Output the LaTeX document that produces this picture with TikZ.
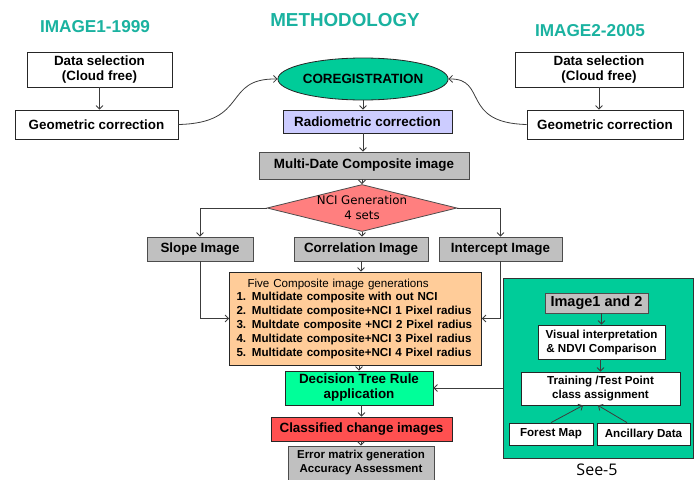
\documentclass[tikz,border=0pt]{standalone}
\usepackage{fontspec}
\setmainfont{Liberation Sans}
\newfontfamily\ncifont{DejaVu Sans}
\newfontfamily\seefont{Open Sans}
\usetikzlibrary{shapes.geometric,arrows.meta}

\definecolor{titleteal}{RGB}{26,178,160}
\definecolor{coregreen}{RGB}{0,204,153}
\definecolor{radioblue}{RGB}{204,204,255}
\definecolor{boxgray}{RGB}{192,192,192}
\definecolor{ncired}{RGB}{255,127,127}
\definecolor{fiveorange}{RGB}{255,204,153}
\definecolor{treegreen}{RGB}{0,255,153}
\definecolor{classred}{RGB}{255,80,80}
\definecolor{linegray}{RGB}{60,60,60}

\begin{document}
\begin{tikzpicture}[x=1pt, y=-1pt,
        every node/.style={inner sep=0pt, align=center},
        title/.style={text=titleteal, font=\bfseries\fontsize{17.2}{20}\selectfont},
        box/.style={draw=black!85, line width=0.8pt, fill=white, font=\bfseries\fontsize{13.4}{15}\selectfont},
        smallbox/.style={box, font=\bfseries\fontsize{11.6}{14}\selectfont},
        graybox/.style={box, fill=boxgray, draw=black!70},
        link/.style={draw=linegray, line width=0.8pt, -{Straight Barb[length=3.5pt,width=7pt]}}]

        \useasboundingbox (0,0) rectangle (700,479);

        \node[title] (img1title) at (95,27) {IMAGE1-1999};
        \node[title, font=\bfseries\fontsize{18.8}{22}\selectfont] (methtitle) at (345,20) {METHODOLOGY};
        \node[title] (img2title) at (590,31) {IMAGE2-2005};

        \node[box, minimum width=145, minimum height=35] (dsel1) at (99.5,69.5) {Data selection\\(Cloud free)};
        \node[box, minimum width=163, minimum height=29] (geo1) at (96.5,124.5) {Geometric correction};
        \node[box, minimum width=168, minimum height=35] (dsel2) at (599,69.5) {Data selection\\(Cloud free)};
        \node[box, minimum width=156, minimum height=29] (geo2) at (605,124.5) {Geometric correction};

        \node[box, ellipse, fill=coregreen, minimum width=126, minimum height=42] (coreg) at (363,79) {COREGISTRATION};
        \node[box, fill=radioblue, minimum width=169, minimum height=23] (radio) at (367.5,121.5) {Radiometric correction};
        \node[graybox, minimum width=210, minimum height=27] (multi) at (364,165.5) {Multi-Date Composite image};
        \node[diamond, draw=black!70, line width=0.8pt, fill=ncired, minimum width=190, minimum height=47,
              label={[font=\ncifont\fontsize{11.8}{15}\selectfont, align=center]center:NCI Generation\\4 sets}] (nci) at (362,208) {};

        \node[graybox, minimum width=106, minimum height=24] (slope) at (200,249) {Slope Image};
        \node[graybox, minimum width=134, minimum height=24] (corr) at (361,249) {Correlation Image};
        \node[graybox, minimum width=123, minimum height=24] (inter) at (500.5,249) {Intercept Image};

        \node[box, fill=fiveorange, align=left, text width=238pt, inner xsep=7pt, minimum height=93,
              font=\fontsize{11.6}{13.8}\selectfont] (five) at (355.5,318.5)
            {\hspace*{11pt}Five Composite image generations\\
             \textbf{1. Multidate composite with out NCI}\\
             \textbf{2. Multidate composite+NCI 1 Pixel radius}\\
             \textbf{3. Multdate composite +NCI 2 Pixel radius}\\
             \textbf{4. Multidate composite+NCI 3 Pixel radius}\\
             \textbf{5. Multidate composite+NCI 4 Pixel radius}};

        \node[box, fill=treegreen, minimum width=148, minimum height=34] (tree) at (359,388) {Decision Tree Rule\\application};
        \node[box, fill=classred, minimum width=181, minimum height=24] (classified) at (361.5,429) {Classified change images};
        \node[graybox, minimum width=146, minimum height=34, font=\bfseries\fontsize{11.5}{14}\selectfont] (error) at (361,463)
            {Error matrix generation\\Accuracy Assessment};

        \node[draw=black!80, line width=1pt, fill=coregreen, minimum width=190, minimum height=180] (panel) at (598,368) {};
        \node[graybox, minimum width=103, minimum height=20, font=\bfseries\fontsize{14.5}{16}\selectfont] (img12) at (596.5,303) {Image1 and 2};
        \node[smallbox, minimum width=127, minimum height=34] (visual) at (601.5,342) {Visual interpretation\\\& NDVI Comparison};
        \node[smallbox, minimum width=159, minimum height=33] (training) at (600.5,388.5) {Training /Test Point\\class assignment};
        \node[smallbox, minimum width=84, minimum height=22] (forest) at (551,434) {Forest Map};
        \node[smallbox, minimum width=93, minimum height=22] (ancillary) at (643.5,434) {Ancillary Data};
        \node[font=\seefont\fontsize{16}{18}\selectfont] (see5) at (597,470) {See-5};

        \draw[link] (dsel1) -- (dsel1 |- geo1.north);
        \draw[link] (dsel2) -- (dsel2 |- geo2.north);
        \draw[link] (geo1.east) .. controls (250,123) and (222,78) .. (coreg.west);
        \draw[link] (geo2.west) .. controls (460,123) and (488,78) .. (coreg.east);
        \draw[link] (coreg) -- (coreg |- radio.north);
        \draw[link] (radio.south -| coreg) -- (coreg |- multi.north);
        \draw[link] (multi.south -| nci) -- (nci.north);
        \draw[link] (nci.west) -| (slope.north);
        \draw[link] (nci.east) -| (inter.north);
        \draw[link] (nci.south) -- (corr.north -| nci);
        \draw[link] (slope.south) |- (five.west);
        \draw[link] (inter.south) |- (five.east);
        \draw[link] (corr.south) -- (five.north -| corr);
        \draw[link] (five.south -| tree) -- (tree.north);
        \draw[link] (tree.south -| classified) -- (classified.north);
        \draw[link] (classified.south -| error) -- (error.north);
        \draw[link] (tree.east -| panel.west) -- (tree.east);
        \draw[link] (img12.south -| visual) -- (visual.north);
        \draw[link] (visual.south -| training) -- (training.north);
        \draw[link] (forest.north) -- (training.south -| 583,0);
        \draw[link] (ancillary.north -| 627,0) -- (training.south -| 598,0);
\end{tikzpicture}
\end{document}
